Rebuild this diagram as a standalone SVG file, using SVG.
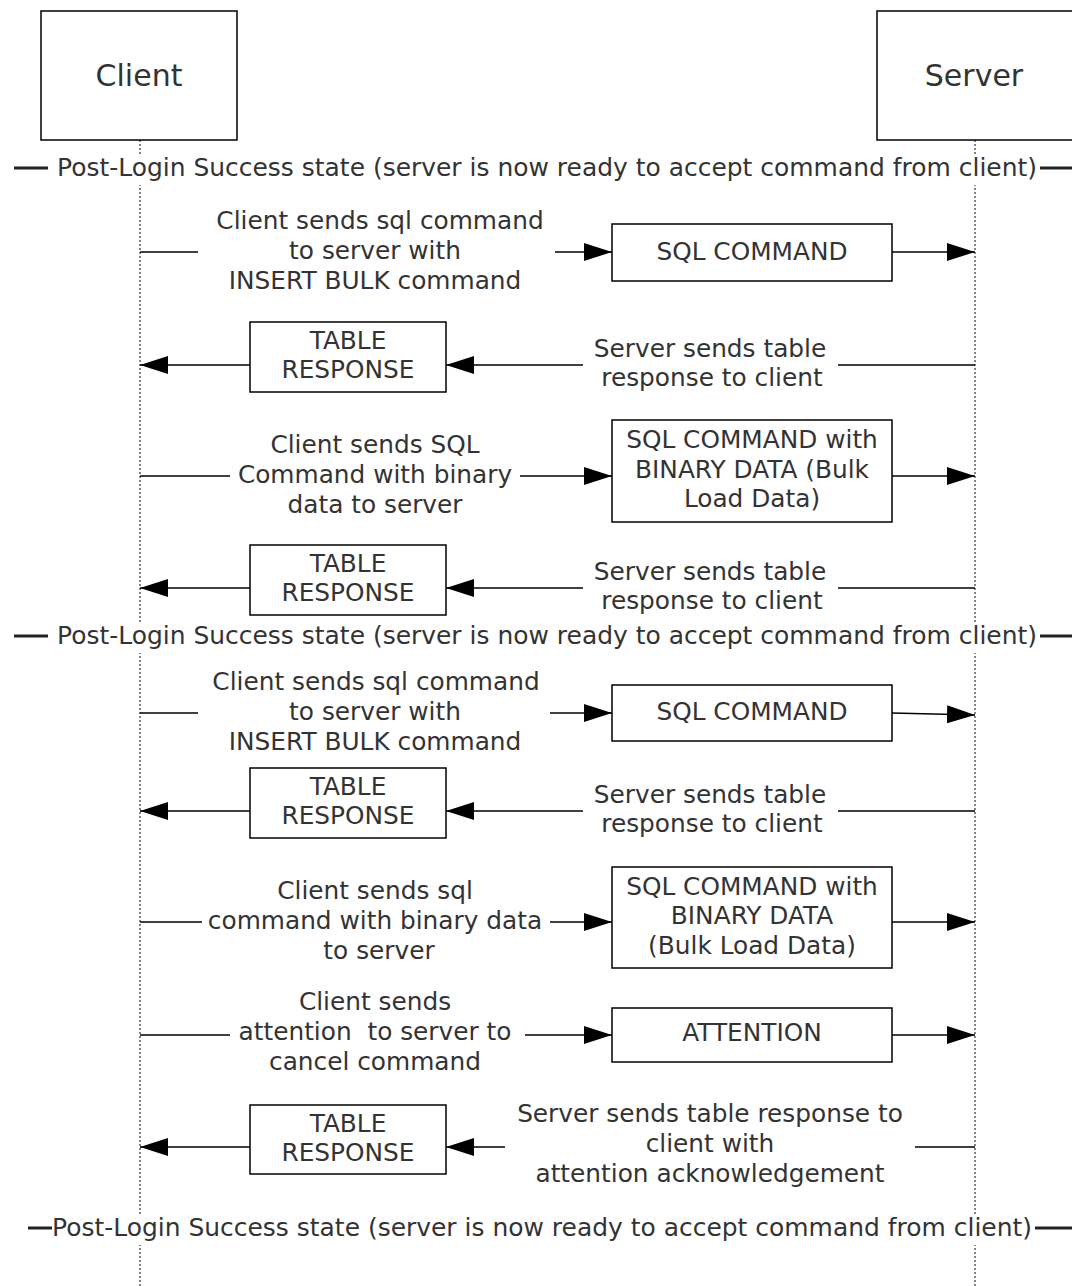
<svg xmlns="http://www.w3.org/2000/svg" width="1072" height="1286" viewBox="0 0 1072 1286">
<style>
text{font-family:"DejaVu Sans","Verdana",sans-serif;fill:#333;font-size:24.8px;text-anchor:middle}
.title{font-size:30px}
.box{fill:#fff;stroke:#000;stroke-width:1.5}
.life{stroke:#333;stroke-width:1.2;stroke-dasharray:2 2;fill:none}
.c{stroke:#000;stroke-width:1.5;fill:none}
.ca{stroke:#000;stroke-width:1.5;fill:none;marker-end:url(#ah)}
.st{stroke:#222;stroke-width:3}
.state{text-anchor:start}
</style>
<defs>
<marker id="ah" markerUnits="userSpaceOnUse" markerWidth="28" markerHeight="18" refX="28" refY="9" orient="auto">
<path d="M0,0 L28,9 L0,18 z" fill="#000"/>
</marker>
</defs>
<rect width="1072" height="1286" fill="#fff"/>
<g id="lifelines">
<line class="life" x1="140" y1="140" x2="140" y2="1286"/>
<line class="life" x1="975" y1="140" x2="975" y2="1286"/>
</g>
<g id="client"><rect class="box" x="41" y="11" width="196" height="129"/><text class="title" x="139" y="86">Client</text></g>
<g id="server"><rect class="box" x="877" y="11" width="200" height="129"/><text class="title" x="974" y="86">Server</text></g>
<g id="state1"><rect x="52" y="154" width="988" height="31" fill="#fff"/><line class="st" x1="14" y1="168" x2="48" y2="168"/><line class="st" x1="1040" y1="168" x2="1072" y2="168"/><text class="state" x="57" y="176" textLength="980" lengthAdjust="spacingAndGlyphs">Post-Login Success state (server is now ready to accept command from client)</text></g>
<g id="state2"><rect x="52" y="622" width="988" height="31" fill="#fff"/><line class="st" x1="14" y1="636" x2="48" y2="636"/><line class="st" x1="1040" y1="636" x2="1072" y2="636"/><text class="state" x="57" y="644" textLength="980" lengthAdjust="spacingAndGlyphs">Post-Login Success state (server is now ready to accept command from client)</text></g>
<g id="state3"><rect x="52" y="1214" width="984" height="31" fill="#fff"/><line class="st" x1="28" y1="1228" x2="52" y2="1228"/><line class="st" x1="1035" y1="1228" x2="1072" y2="1228"/><text class="state" x="52" y="1236" textLength="980" lengthAdjust="spacingAndGlyphs">Post-Login Success state (server is now ready to accept command from client)</text></g>
<g id="connectors">
<line class="c" x1="140" y1="252" x2="198" y2="252"/>
<line class="ca" x1="555" y1="252" x2="612" y2="252"/>
<line class="ca" x1="892" y1="252" x2="975" y2="252"/>
<line class="c" x1="975" y1="365" x2="838" y2="365"/>
<line class="ca" x1="583" y1="365" x2="446" y2="365"/>
<line class="ca" x1="250" y1="365" x2="140" y2="365"/>
<line class="c" x1="140" y1="476" x2="230" y2="476"/>
<line class="ca" x1="520" y1="476" x2="612" y2="476"/>
<line class="ca" x1="892" y1="476" x2="975" y2="476"/>
<line class="c" x1="975" y1="588" x2="838" y2="588"/>
<line class="ca" x1="583" y1="588" x2="446" y2="588"/>
<line class="ca" x1="250" y1="588" x2="140" y2="588"/>
<line class="c" x1="140" y1="713" x2="198" y2="713"/>
<line class="ca" x1="550" y1="713" x2="612" y2="713"/>
<line class="ca" x1="892" y1="713" x2="975" y2="715"/>
<line class="c" x1="975" y1="811" x2="838" y2="811"/>
<line class="ca" x1="583" y1="811" x2="446" y2="811"/>
<line class="ca" x1="250" y1="811" x2="140" y2="811"/>
<line class="c" x1="140" y1="922" x2="202" y2="922"/>
<line class="ca" x1="550" y1="922" x2="612" y2="922"/>
<line class="ca" x1="892" y1="922" x2="975" y2="922"/>
<line class="c" x1="140" y1="1035" x2="230" y2="1035"/>
<line class="ca" x1="525" y1="1035" x2="612" y2="1035"/>
<line class="ca" x1="892" y1="1035" x2="975" y2="1035"/>
<line class="c" x1="975" y1="1147" x2="915" y2="1147"/>
<line class="ca" x1="505" y1="1147" x2="446" y2="1147"/>
<line class="ca" x1="250" y1="1147" x2="140" y2="1147"/>
</g>
<g id="label1"><text x="380" y="229">Client sends sql command</text><text x="375" y="259">to server with</text><text x="375" y="289">INSERT BULK command</text></g>
<g id="sql1"><rect class="box" x="612" y="224" width="280" height="57"/><text x="752" y="260">SQL COMMAND</text></g>
<g id="label2"><text x="710" y="357">Server sends table</text><text x="712" y="386">response to client</text></g>
<g id="tr1"><rect class="box" x="250" y="322" width="196" height="70"/><text x="348" y="349">TABLE</text><text x="348" y="378">RESPONSE</text></g>
<g id="label3"><text x="375" y="453">Client sends SQL</text><text x="375" y="483">Command with binary</text><text x="375" y="513">data to server</text></g>
<g id="sql2"><rect class="box" x="612" y="420" width="280" height="102"/><text x="752" y="448">SQL COMMAND with</text><text x="752" y="478">BINARY DATA (Bulk</text><text x="752" y="507">Load Data)</text></g>
<g id="label4"><text x="710" y="580">Server sends table</text><text x="712" y="609">response to client</text></g>
<g id="tr2"><rect class="box" x="250" y="545" width="196" height="70"/><text x="348" y="572">TABLE</text><text x="348" y="601">RESPONSE</text></g>
<g id="label5"><text x="376" y="690">Client sends sql command</text><text x="375" y="720">to server with</text><text x="375" y="750">INSERT BULK command</text></g>
<g id="sql3"><rect class="box" x="612" y="685" width="280" height="56"/><text x="752" y="720">SQL COMMAND</text></g>
<g id="label6"><text x="710" y="803">Server sends table</text><text x="712" y="832">response to client</text></g>
<g id="tr3"><rect class="box" x="250" y="768" width="196" height="70"/><text x="348" y="795">TABLE</text><text x="348" y="824">RESPONSE</text></g>
<g id="label7"><text x="375" y="899">Client sends sql</text><text x="375" y="929">command with binary data</text><text x="379" y="959">to server</text></g>
<g id="sql4"><rect class="box" x="612" y="867" width="280" height="101"/><text x="752" y="895">SQL COMMAND with</text><text x="752" y="924">BINARY DATA</text><text x="752" y="954">(Bulk Load Data)</text></g>
<g id="label8"><text x="375" y="1010">Client sends</text><text x="375" y="1040" xml:space="preserve">attention  to server to</text><text x="375" y="1070">cancel command</text></g>
<g id="att"><rect class="box" x="612" y="1008" width="280" height="54"/><text x="752" y="1041">ATTENTION</text></g>
<g id="label9"><text x="710" y="1122">Server sends table response to</text><text x="710" y="1152">client with</text><text x="710" y="1182">attention acknowledgement</text></g>
<g id="tr4"><rect class="box" x="250" y="1105" width="196" height="69"/><text x="348" y="1132">TABLE</text><text x="348" y="1161">RESPONSE</text></g>
</svg>
